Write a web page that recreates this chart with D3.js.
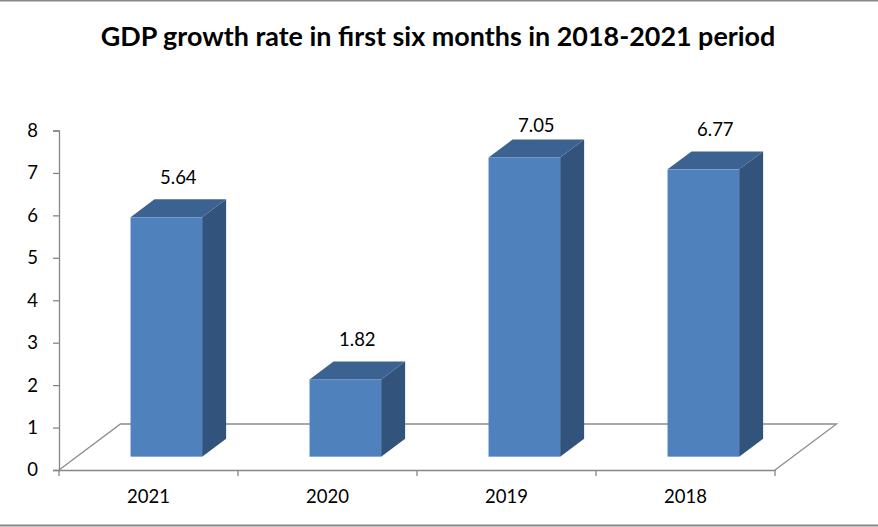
<!DOCTYPE html>
<html>
<head>
<meta charset="utf-8">
<script src="https://cdn.jsdelivr.net/npm/d3@7"></script>
<style>
  body { margin: 0; background: #fff; }
  svg text { font-family: Lato, "Noto Sans", sans-serif; fill: #000; }
</style>
</head>
<body>
<div id="chart"></div>
<script>
// data
var years = ['2021', '2020', '2019', '2018'];
var growth = [5.64, 1.82, 7.05, 6.77];
var yTicks = [0, 1, 2, 3, 4, 5, 6, 7, 8];
var title = 'GDP growth rate in first six months in 2018-2021 period';

document.addEventListener("DOMContentLoaded", function() {
  drawChart();
});

function drawChart() {
  const width = 878;
  const height = 527;
  const plot = { left: 59, right: 775, top: 130.5, bottom: 470 };
  // floor depth (oblique projection) and where the bars sit in it
  const floorDx = 61.5, floorDy = -46;
  const barFront = 0.29, barDepth = 0.39;

  const svg = d3.select('#chart')
    .append('svg')
    .attr('width', width)
    .attr('height', height);

  // outer chart frame
  svg.append('line').attr('x1', 0).attr('x2', width).attr('y1', 0.5).attr('y2', 0.5)
    .attr('stroke', '#888').attr('stroke-width', 2);
  svg.append('line').attr('x1', 0).attr('x2', width).attr('y1', 525.5).attr('y2', 525.5)
    .attr('stroke', '#888').attr('stroke-width', 2);

  svg.append('text')
    .attr('x', 438)
    .attr('y', 46)
    .attr('text-anchor', 'middle')
    .attr('font-size', '26.9px')
    .attr('font-weight', 'bold')
    .text(title);

  const x = d3.scaleBand()
    .domain(years)
    .range([plot.left, plot.right])
    .padding(0);

  const y = d3.scaleLinear()
    .domain([0, 8])
    .range([plot.bottom, plot.top]);

  // floor
  svg.append('path')
    .attr('d', d3.line()([
      [plot.left, plot.bottom],
      [plot.left + floorDx, plot.bottom + floorDy],
      [plot.right + floorDx, plot.bottom + floorDy],
      [plot.right, plot.bottom]
    ]))
    .attr('fill', 'none')
    .attr('stroke', '#8c8c8c')
    .attr('stroke-width', 1.3);

  const bw = x.bandwidth() * 0.4;
  const offX = floorDx * barFront, offY = floorDy * barFront;
  const dX = floorDx * barDepth, dY = floorDy * barDepth;

  const bars = years.map((d, i) => {
    const x0 = x(d) + x.bandwidth() / 2 + offX - bw / 2;
    return {
      year: d, v: growth[i],
      x0: x0, x1: x0 + bw,
      top: y(growth[i]) + offY,
      bot: y(0) + offY
    };
  });

  const g = svg.append('g');
  const bar = g.selectAll('g.bar').data(bars).join('g').attr('class', 'bar');

  bar.append('path') // side
    .attr('d', b => d3.line()([[b.x1, b.top], [b.x1 + dX, b.top + dY], [b.x1 + dX, b.bot + dY], [b.x1, b.bot]]) + 'Z')
    .attr('fill', '#31537c');
  bar.append('path') // top
    .attr('d', b => d3.line()([[b.x0, b.top], [b.x0 + dX, b.top + dY], [b.x1 + dX, b.top + dY], [b.x1, b.top]]) + 'Z')
    .attr('fill', '#3c6292');
  bar.append('rect') // front
    .attr('x', b => b.x0)
    .attr('y', b => b.top)
    .attr('width', bw)
    .attr('height', b => b.bot - b.top)
    .attr('fill', '#4f81bd');

  bar.append('text')
    .attr('x', b => (b.x0 + b.x1) / 2 + dX / 2)
    .attr('y', b => Math.max(125, b.top - 40))
    .attr('dy', '0.36em')
    .attr('text-anchor', 'middle')
    .attr('font-size', '18.5px')
    .text(b => b.v.toFixed(2));

  // axes
  function yAxis(g) {
    g.attr('transform', `translate(${plot.left},0)`)
      .call(d3.axisLeft(y).tickValues(yTicks).tickSize(6).tickPadding(15))
      .call(g => g.select('.domain').attr('stroke', '#868686').attr('stroke-width', 1.3))
      .call(g => g.selectAll('.tick line').attr('stroke', '#868686').attr('stroke-width', 1.3))
      .call(g => g.selectAll('text').attr('font-size', '18.5px').attr('font-family', 'Lato'));
  }

  function xAxis(g) {
    g.attr('transform', `translate(0,${plot.bottom})`)
      .call(d3.axisBottom(x).tickSize(0).tickPadding(20))
      .call(g => g.select('.domain').attr('stroke', '#868686').attr('stroke-width', 1.3))
      .call(g => g.selectAll('text').attr('font-size', '18.5px').attr('font-family', 'Lato'));
    // ticks at category boundaries
    const edges = years.map(d => x(d)).concat([plot.right]);
    g.selectAll('line.edge').data(edges).join('line')
      .attr('class', 'edge')
      .attr('x1', d => d).attr('x2', d => d)
      .attr('y1', 0).attr('y2', 6)
      .attr('stroke', '#868686').attr('stroke-width', 1.3);
  }

  svg.append('g').call(xAxis);
  svg.append('g').call(yAxis);
}
</script>
</body>
</html>
